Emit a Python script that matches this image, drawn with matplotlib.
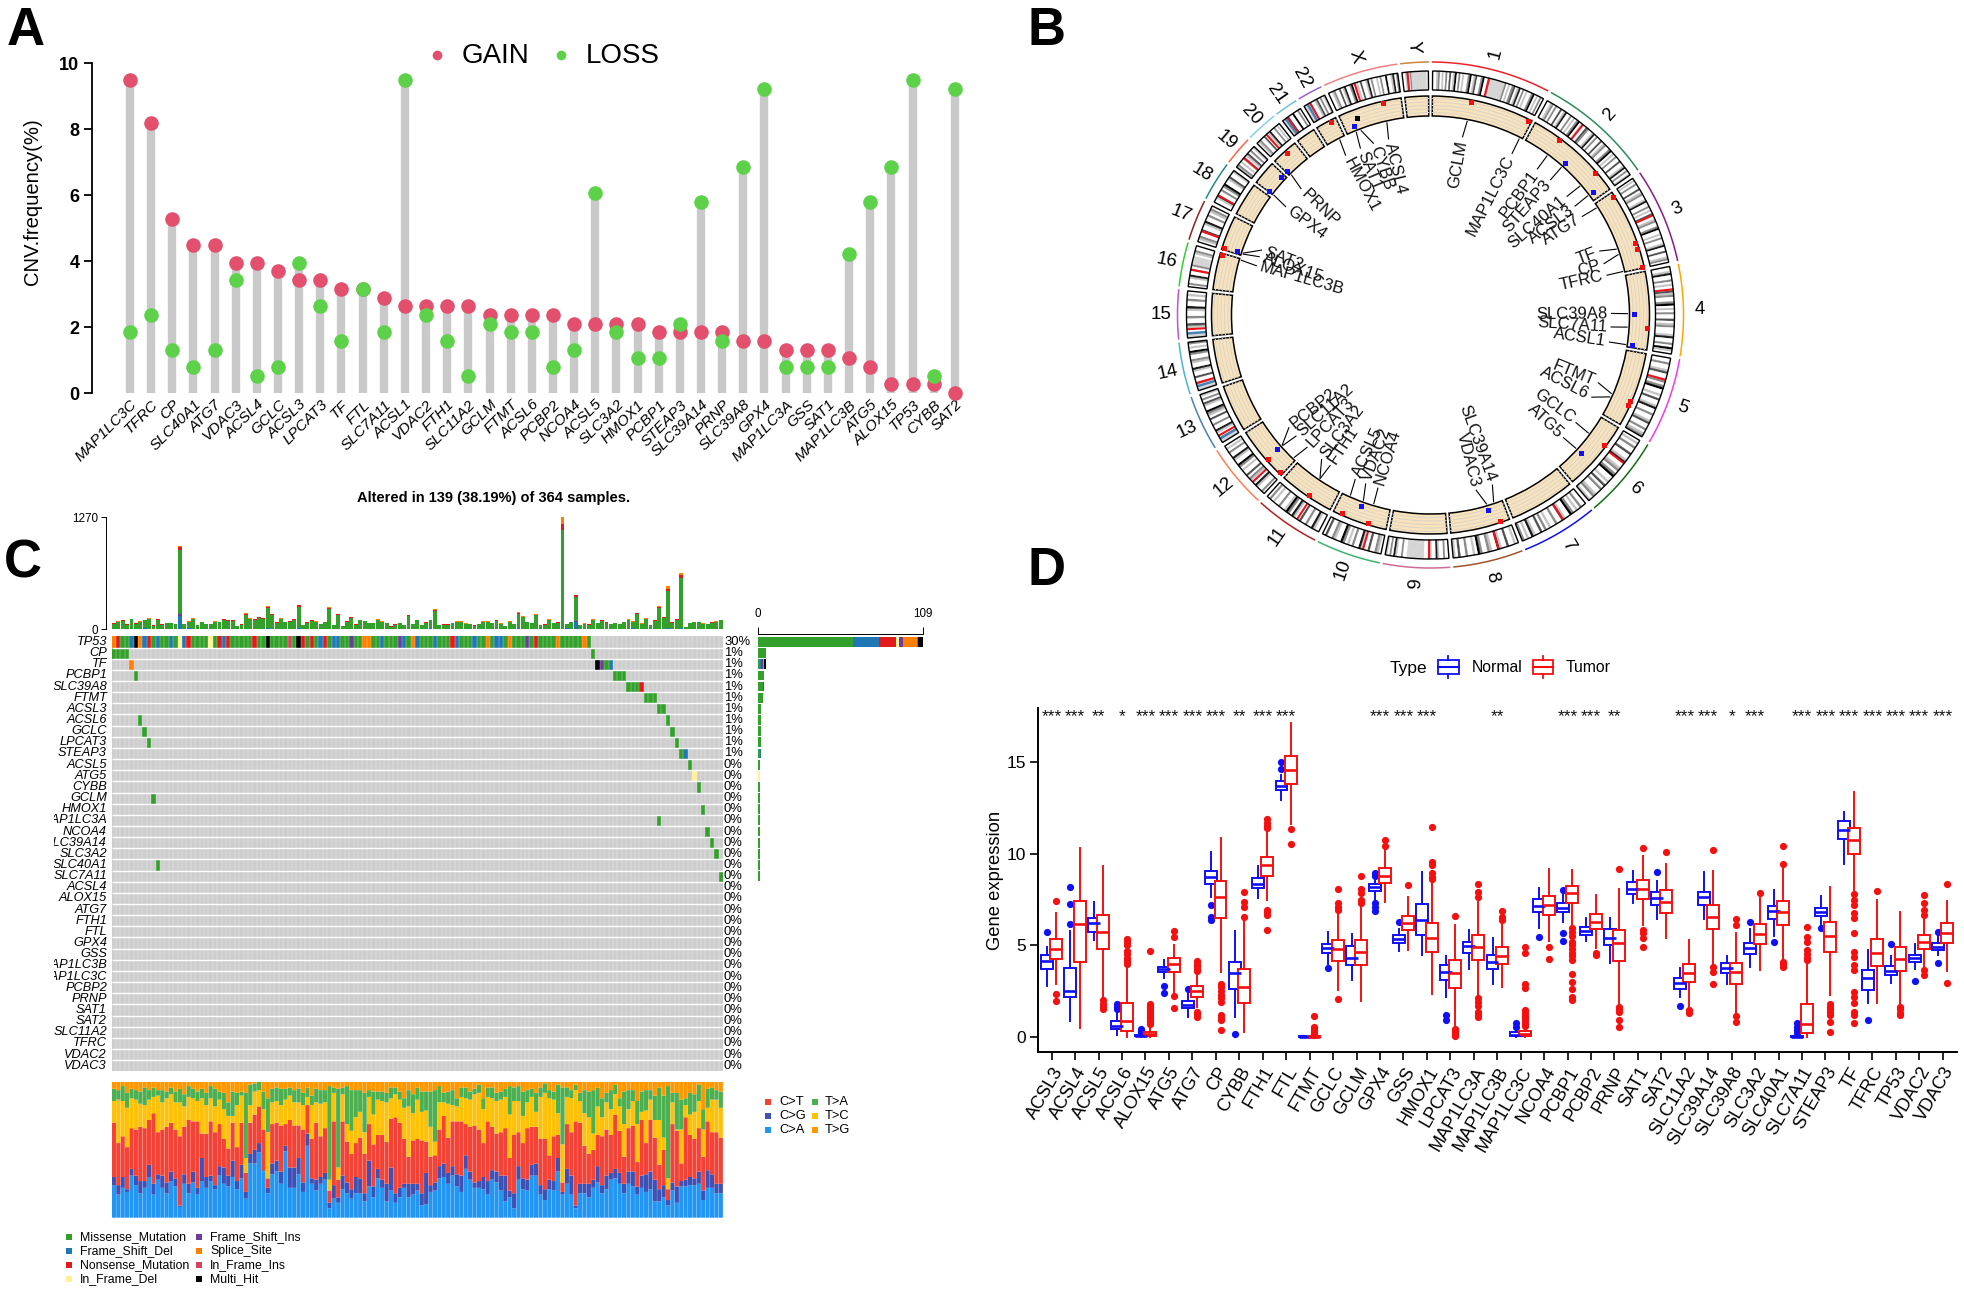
import numpy as np
import matplotlib
matplotlib.use("Agg")
import matplotlib.pyplot as plt
from matplotlib.colors import ListedColormap
from matplotlib.patches import Wedge, Rectangle
from matplotlib.transforms import Bbox

plt.rcParams['font.family'] = ['Liberation Sans', 'DejaVu Sans']

W, H = 1965, 1294

# ---------- Panel A data ----------
cnv_genes = ["MAP1LC3C","TFRC","CP","SLC40A1","ATG7","VDAC3","ACSL4","GCLC","ACSL3","LPCAT3","TF","FTL","SLC7A11","ACSL1","VDAC2","FTH1","SLC11A2","GCLM","FTMT","ACSL6","PCBP2","NCOA4","ACSL5","SLC3A2","HMOX1","PCBP1","STEAP3","SLC39A14","PRNP","SLC39A8","GPX4","MAP1LC3A","GSS","SAT1","MAP1LC3B","ATG5","ALOX15","TP53","CYBB","SAT2"]
cnv_gain = [9.5,8.18,5.28,4.49,4.49,3.96,3.96,3.7,3.43,3.43,3.17,3.17,2.9,2.64,2.64,2.64,2.64,2.38,2.38,2.38,2.38,2.11,2.11,2.11,2.11,1.85,1.85,1.85,1.85,1.59,1.59,1.32,1.32,1.32,1.06,0.79,0.27,0.27,0.27,0.0]
cnv_loss = [1.85,2.38,1.32,0.79,1.32,3.43,0.53,0.79,3.96,2.64,1.59,3.17,1.85,9.5,2.38,1.59,0.53,2.11,1.85,1.85,0.79,1.32,6.07,1.85,1.06,1.06,2.11,5.81,1.59,6.87,9.23,0.79,0.79,0.79,4.22,5.81,6.87,9.5,0.53,9.23]

# ---------- Panel B data ----------
chrom_names = ["1","2","3","4","5","6","7","8","9","10","11","12","13","14","15","16","17","18","19","20","21","22","X","Y"]
chrom_mb = [248.9,242.2,198.3,190.2,181.5,170.8,159.3,145.1,138.4,133.8,135.1,133.3,114.4,107.0,102.0,90.3,83.3,80.4,58.6,64.4,46.7,50.8,156.0,57.2]
chrom_cen = [123,93,91,50,48,60,60,45,43,40,54,35,17,17,19,37,24,17,26,28,12,15,60,12]
chrom_col = ["#F0202A","#2E8B57","#8B1A8B","#FFA500","#F03CE6","#106E10","#1010F0","#A0522D","#D06A96","#3CB371","#B22222","#FF7F50","#4682B4","#4CB4D0","#BA55D3","#32CD32","#8B2323","#1F8A8A","#FF6347","#87CEEB","#6FC3D9","#9A5FD9","#F08080","#CD853F"]
stalk_chr = ["13","14","15","21","22"]
stalk_mb = [10,10,10,8,9]
chrom_bands = [
 "0012010203015020100250130025002666666662010230140201002501020",
 "001202003014002010250100320014020030120025010200300140201",
 "0102003012001400201030012002500102001400300120",
 "0014002010031200250102003012000140020510",
 "002001300120250010300140020013002012",
 "0102003001400120250010302001201",
 "002010250013002001020300140102",
 "010030014001200250100200301",
 "002001400120066666666600200140201",
 "01200300140020102500120030",
 "001400200300140251002001020",
 "0200140012030010250014002010",
 "6620014002003012500130201",
 "66020030014001200250102",
 "6600130020014002010",
 "02001400202666601200",
 "01200300140020120",
 "00140020250013001",
 "1201020130201",
 "0120030014002010",
 "66030050020",
 "660200130201",
 "001200301400250010300140200102005001402",
 "00120266666666660",
]
gene_names = ["GCLM","MAP1LC3C","PCBP1","STEAP3","SLC40A1","ACSL3","ATG7","TF","CP","TFRC","SLC39A8","SLC7A11","ACSL1","FTMT","ACSL6","GCLC","ATG5","SLC39A14","VDAC3","NCOA4","VDAC2","ACSL5","FTH1","SLC3A2","LPCAT3","SLC11A2","PCBP2","MAP1LC3B","ALOX15","SAT2","GPX4","PRNP","HMOX1","SAT1","CYBB","ACSL4"]
gene_chr = ["1","1","2","2","2","2","3","3","3","3","4","4","4","5","5","6","6","8","8","10","10","10","11","11","12","12","12","16","17","17","19","20","22","X","X","X"]
gene_mb = [93.9,241.0,70.1,119.2,189.6,222.9,11.3,133.7,149.2,196.0,102.0,138.0,184.7,121.8,131.9,53.5,106.2,22.4,42.4,46.0,75.2,112.4,61.9,62.9,6.9,51.0,53.4,87.0,4.6,7.6,1.1,4.7,35.4,23.8,37.6,109.6]
gene_state = [1,1,1,-1,1,-1,1,1,1,1,-1,1,-1,1,1,1,-1,1,-1,1,-1,1,1,1,1,1,-1,1,1,-1,-1,-1,1,-1,0,1]
gene_label_angle = [10.2,26.8,36.2,41.6,49,53,57,69.3,73.5,77.3,89.5,93.8,98.6,112,117,126.5,132.7,160,165.4,196.9,201,204.6,213.7,217,223,228,231.5,285.8,288.8,291,306.8,314.3,332,337.2,341.6,346.6]
extra_chr = ["19","20"]
extra_mb = [48.9,34.9]
extra_state = [-1,1]

# ---------- Panel C data ----------
onco_genes = ["TP53","CP","TF","PCBP1","SLC39A8","FTMT","ACSL3","ACSL6","GCLC","LPCAT3","STEAP3","ACSL5","ATG5","CYBB","GCLM","HMOX1","MAP1LC3A","NCOA4","SLC39A14","SLC3A2","SLC40A1","SLC7A11","ACSL4","ALOX15","ATG7","FTH1","FTL","GPX4","GSS","MAP1LC3B","MAP1LC3C","PCBP2","PRNP","SAT1","SAT2","SLC11A2","TFRC","VDAC2","VDAC3"]
onco_pct = [30,1,1,1,1,1,1,1,1,1,1]+[0]*28
tp53_calls = ("SNMMFHSFNMFMMFMDFN"+"MMMM"+"DMNFN"+"MMMMM"+"NMM"+"H"+"MMMM"+"TMHNMNMFNMFF"+"MM"+"I"+"MM"+"SS"+"MM"+"F"+"MMM"+"IFMSF"+"MMM"+"F"+"MMM"+"NF"+"MMM"+"F"+"MM"+"SMFFMS"+"MMM"+"IMN"+"MMMM"+"S"+"MMMMM"+"SM")
other_calls = {
 "CP":{0:"M",1:"M",2:"M",3:"M",109:"M"},
 "TF":{4:"S",110:"H",111:"I",112:"M",113:"F"},
 "PCBP1":{5:"M",114:"M",115:"M",116:"M"},
 "SLC39A8":{117:"M",118:"M",119:"M",120:"N"},
 "FTMT":{121:"M",122:"M",123:"M"},
 "ACSL3":{124:"M",125:"M"},
 "ACSL6":{6:"M",126:"M"},
 "GCLC":{7:"M",127:"M"},
 "LPCAT3":{8:"M",128:"M"},
 "STEAP3":{129:"M",130:"F"},
 "ACSL5":{131:"M"},
 "ATG5":{132:"D"},
 "CYBB":{133:"M"},
 "GCLM":{9:"M"},
 "HMOX1":{134:"M"},
 "MAP1LC3A":{124:"M"},
 "NCOA4":{135:"M"},
 "SLC39A14":{136:"M"},
 "SLC3A2":{137:"M"},
 "SLC40A1":{10:"M"},
 "SLC7A11":{138:"M"},
}
var_codes = "MFNDISTH"
var_names = ["Missense_Mutation","Frame_Shift_Del","Nonsense_Mutation","In_Frame_Del","Frame_Shift_Ins","Splice_Site","In_Frame_Ins","Multi_Hit"]
var_cols = ["#33A02C","#1F78B4","#E31A1C","#FFF099","#6A3D9A","#FF7F00","#D8405F","#000000"]

tmb_total = [64,87,99,53,117,64,87,106,121,42,114,53,68,68,61,948,61,87,121,49,83,61,57,87,83,117,102,99,38,53,178,121,117,136,125,262,171,76,121,83,91,114,277,45,76,102,87,57,83,254,45,174,38,91,140,53,106,95,68,72,110,87,68,30,53,68,45,163,57,106,
 45,76,106,227,45,53,53,72,87,87,64,61,42,61,87,87,68,102,64,38,87,61,190,144,83,72,167,45,53,110,72,76,1270,57,83,390,49,64,53,110,68,99,76,61,68,61,80,110,87,182,64,121,49,102,262,136,489,76,114,640,27,72,80,80,64,61,76,87,106]
tmb_nons = [3,4,4,2,6,3,4,5,6,2,6,2,3,3,3,35,3,4,6,2,4,3,3,4,4,6,5,5,2,2,9,6,6,7,6,16,9,4,6,4,4,6,16,2,4,5,4,3,4,14,2,9,2,4,7,3,5,5,3,4,6,4,3,2,3,3,2,8,3,5,
 2,4,5,12,2,3,3,4,4,4,3,3,2,3,4,4,3,5,3,2,4,3,11,8,4,4,9,2,3,6,4,4,68,3,4,20,2,3,3,6,3,5,4,3,3,3,4,6,4,10,3,6,2,5,16,7,22,4,6,30,2,4,4,4,3,3,4,4,6]
tmb_splice = [1,2,2,1,2,1,2,2,3,1,2,1,2,2,1,20,1,2,3,1,2,1,1,2,2,3,2,2,1,1,5,3,3,3,3,10,4,2,3,2,2,3,6,1,2,2,2,1,2,12,1,6,1,2,4,1,2,2,2,2,3,2,2,1,1,2,1,4,1,3,
 1,2,2,6,1,1,1,2,2,2,2,1,1,1,2,2,2,2,2,1,2,1,4,4,2,2,4,1,1,3,2,2,72,1,2,8,1,2,1,3,2,2,2,1,2,1,2,3,2,4,2,3,1,2,9,3,35,2,3,30,1,2,2,2,2,1,2,2,3]
tmb_del_cols = [15,105,1,7,17,22,35,42,58,72,92,103,118,126,129]
tmb_del_vals = [150,80,5,6,6,5,8,10,5,6,6,8,8,8,10]
tmb_ins_cols = [15,105]
tmb_ins_vals = [18,12]

titv_labels = ["C>A","C>G","C>T","T>C","T>A","T>G"]
titv_cols = ["#2196F3","#3F51B5","#F44336","#FFC107","#4CAF50","#FF9800"]
titv_ca = [24,17,22,19,31,24,18,22,30,17,28,22,18,27,23,8,25,18,26,17,27,22,27,21,31,25,23,30,21,29,14,40,40,48,34,18,32,34,25,49,22,22,32,19,53,25,20,25,28,7,14,11,21,18,14,18,18,12,23,15,29,22,12,20,11,15,22,15,17,20,
 9,10,19,20,29,30,25,31,23,19,36,28,22,22,21,17,28,26,20,12,15,7,28,21,20,31,31,17,13,21,20,34,17,25,17,7,18,18,15,22,26,18,21,28,29,25,18,25,23,17,22,19,21,12,12,15,9,20,11,23,23,24,24,25,13,22,22,18,18]
titv_cg = [30,24,30,21,36,31,27,27,39,25,32,31,26,34,29,9,32,25,34,22,44,30,31,24,38,37,31,42,27,39,19,47,50,55,35,22,40,42,34,53,37,37,44,26,62,29,28,30,33,11,24,15,31,26,21,30,29,18,42,23,36,28,25,37,18,22,25,25,25,25,
 18,33,24,26,38,40,33,38,32,31,46,34,26,27,30,27,35,34,31,31,20,18,38,29,28,39,40,24,21,28,27,44,19,36,31,9,25,25,25,28,38,24,31,33,36,33,25,34,34,23,31,32,34,28,21,24,13,26,23,27,28,30,29,34,20,35,32,25,25]
titv_ct = [70,55,60,52,66,65,67,66,72,77,63,65,67,70,65,60,67,72,71,71,62,62,71,63,69,58,51,70,52,70,33,70,76,82,65,29,69,70,68,69,72,68,68,65,83,58,70,60,66,20,71,28,71,56,47,55,59,47,69,54,61,61,56,73,74,70,58,45,57,58,
 57,56,45,46,65,75,59,71,71,71,69,67,68,65,55,71,67,62,63,66,44,61,63,55,66,67,67,58,58,46,60,61,26,69,63,71,70,53,47,50,61,60,65,61,76,64,45,66,68,41,72,55,72,59,39,50,21,69,64,40,74,61,58,66,45,71,63,63,59]
titv_tc = [86,87,86,81,88,87,84,83,87,89,90,85,88,91,85,85,82,89,88,86,88,83,88,82,87,80,75,75,83,90,44,83,93,94,80,63,85,86,83,87,90,85,85,83,89,83,85,84,85,28,92,37,91,69,64,74,78,63,89,76,87,86,85,88,91,87,81,82,77,87,
 78,79,67,56,85,85,84,83,82,89,88,87,91,92,80,89,88,86,87,89,76,86,86,75,85,89,78,89,92,88,87,77,54,89,88,94,86,77,74,62,82,74,85,80,91,82,69,80,86,69,78,79,87,72,72,59,29,85,65,65,83,76,78,86,65,81,87,87,81]
titv_ta = [95,94,97,92,95,94,93,96,94,96,94,94,93,96,93,95,91,97,95,93,95,92,97,95,93,92,85,93,92,93,92,98,99,100,93,88,95,96,95,95,96,94,95,92,96,90,95,94,94,97,96,95,96,97,94,94,94,92,94,93,93,93,92,96,96,93,88,94,91,96,
 93,93,93,94,97,92,93,94,88,96,96,93,95,98,88,96,96,92,93,95,97,96,97,93,94,95,92,96,99,94,93,98,96,96,94,98,92,94,93,94,96,88,92,94,98,88,93,94,94,86,93,94,94,90,96,90,97,92,92,87,88,92,91,98,80,95,96,94,93]

# ---------- Panel D data ----------
box_genes = ["ACSL3","ACSL4","ACSL5","ACSL6","ALOX15","ATG5","ATG7","CP","CYBB","FTH1","FTL","FTMT","GCLC","GCLM","GPX4","GSS","HMOX1","LPCAT3","MAP1LC3A","MAP1LC3B","MAP1LC3C","NCOA4","PCBP1","PCBP2","PRNP","SAT1","SAT2","SLC11A2","SLC39A14","SLC39A8","SLC3A2","SLC40A1","SLC7A11","STEAP3","TF","TFRC","TP53","VDAC2","VDAC3"]
box_sig = ["***","***","**","*","***","***","***","***","**","***","***","","","","***","***","***","","","**","","","***","***","**","","","***","***","*","***","","***","***","***","***","***","***","***"]
n_q1 = [3.68,2.15,5.7,.4,.02,3.52,1.55,8.33,2.59,8.11,13.49,0,4.57,3.92,7.98,5.14,5.56,3.1,4.56,3.7,.03,6.83,6.83,5.54,5.01,7.78,7.22,2.62,7.18,3.5,4.52,6.45,0,6.6,10.83,2.57,3.35,4.08,4.74]
n_med = [4.16,2.5,6.23,.58,.04,3.68,1.75,8.73,3.46,8.33,13.72,.01,4.83,4.32,8.16,5.36,6.36,3.54,4.96,4.06,.1,7.16,7.03,5.78,5.41,8.09,7.56,2.92,7.64,3.77,4.83,6.87,.01,6.83,11.3,3.19,3.61,4.28,4.92]
n_q3 = [4.45,3.74,6.47,.86,.08,3.83,1.97,9.08,4.1,8.69,13.96,.03,5.08,4.94,8.33,5.58,7.24,3.94,5.19,4.45,.27,7.53,7.29,5.98,5.89,8.44,7.93,3.23,7.93,4.05,5.14,7.16,.03,7.05,11.77,3.66,3.86,4.48,5.1]
n_lo = [2.79,.87,5.29,.1,0,3.19,1.06,7.65,1.09,7.56,12.94,0,3.95,3.1,7.47,4.68,4.46,2.15,3.68,2.86,0,5.92,6.29,5.25,4.01,7.33,6.42,2.19,6.45,2.86,3.83,5.5,0,6.1,9.44,1.82,2.95,3.68,4.47]
n_hi = [4.88,5.78,7.36,1.35,.15,4.19,2.46,10.08,5.78,9.33,14.3,.06,5.74,5.6,8.6,5.9,9.02,4.41,5.83,5.41,.5,8.15,7.8,6.47,6.47,9.04,8.51,3.74,8.98,4.41,5.9,8.02,.05,7.67,12.27,4.74,4.43,5.07,5.5]
n_fl = [[5.7],[8.2,7.24,6.18],[],[1.8,1.65,1.5],[.4,.3,.25],[2.77,2.41],[2.62],[7.2,6.56,6.38],[.15],[],[15.03,14.63],[],[3.75],[],[8.93,8.78,7.29,7.1,6.87],[6.25],[],[1.18,.91],[],[],[.73,.55],[5.45],[8.02,5.69,5.25],[],[],[],[8.98],[1.68],[],[],[6.25],[5.19],[.73,.55,.36,.2],[5.94],[],[.93],[5.05],[3.06],[5.74,4.05]]
t_q1 = [4.23,4.08,4.77,.33,.02,3.53,2.19,6.5,1.82,8.78,13.8,0,4.12,3.92,8.38,5.81,4.61,2.64,4.19,3.95,.05,6.65,7.29,5.9,4.16,7.53,6.78,2.99,5.87,2.88,5.08,6.09,.18,4.61,9.97,3.88,3.61,4.81,5.12]
t_med = [4.79,6.14,5.72,.86,.15,3.95,2.5,7.64,2.7,9.39,14.56,.01,4.77,4.65,8.8,6.2,5.38,3.5,4.88,4.41,.15,7.2,7.84,6.27,5.12,8.06,7.38,3.5,6.52,3.54,5.63,6.83,.67,5.49,10.73,4.56,4.25,5.19,5.65]
t_q3 = [5.36,7.42,6.65,1.82,.27,4.3,2.77,8.53,3.68,9.84,15.36,.05,5.29,5.27,9.2,6.58,6.21,4.17,5.54,4.9,.31,7.71,8.24,6.72,5.83,8.55,8.04,3.99,7.18,4.05,6.14,7.42,1.79,6.25,11.41,5.34,4.92,5.54,6.21]
t_lo = [2.88,.45,2.1,0,0,2.4,1.65,3.55,.27,7.47,11.63,0,2.55,1.97,7.38,4.74,2.33,.4,2.2,2.73,0,5.23,6.0,4.83,1.7,6.1,5.41,1.65,3.9,1.2,3.64,4.1,0,2.28,8.0,1.82,1.73,3.7,3.57]
t_hi = [6.74,10.33,9.33,3.9,.6,5.0,3.4,10.88,6.6,11.2,17.13,.1,6.9,7.16,10.2,7.62,8.4,6.1,7.34,6.2,.5,9.19,9.13,7.76,8.06,9.88,9.42,5.29,9.06,5.65,7.6,9.3,4.0,8.18,13.38,7.45,6.83,6.5,7.42]
t_fl = [[7.44,2.33,1.95],[],[2.0,1.8,1.6,1.5],[5.35,5.2,5.0,4.7,4.5,4.3,4.15,4.0],[4.67,1.8,1.7,1.6,1.5,1.4,1.3,1.2,1.1,1.0,.9,.8,.7],[5.8,5.47,2.22,1.59],[4.15,4,3.85,3.7,3.6,1.35,1.25,1.1],[2.9,2.7,2.5,2.3,2.1,1.9,1.2,1.0,.9,.36],[7.93,7.34,7.1,6.52],[11.9,11.7,11.5,11.4,6.95,6.8,6.65,5.83],[11.35,10.53],[1.13,.55,.4,.3,.2,.1],[8.07,7.3,7.1,6.93,2.06],[8.78,8.1,7.84,7.47,7.3],[10.75,10.42],[8.31],[11.48,9.57,9.39,8.93,8.75,8.6],[6.62,.4,.3,.2,.1,.05],[8.33,7.93,7.65,2.1,1.9,1.7,1.35,1.2,1.1],[6.89,6.56,6.38],[4.92,4.59,2.88,2.64,1.46,1.3,1.15,1,.85,.7,.6],[4.9,4.23],[5.92,5.7,5.5,5.2,5.0,4.8,4.6,4.4,4.2,3.41,3.0,2.59,2.19,2.0],[4.56,4.45],[9.19,1.65,1.5,1.37,.91,.55],[10.32,5.83,5.65,5.38,4.88],[10.08],[1.46,1.28],[10.19,3.83,3.55,2.86],[6.42,6.1,1.13,.82],[7.87],[10.41,9.44,4.1,3.95,3.83],[6.0,5.47,5.2,4.74,4.5,4.3,4.2],[1.8,1.65,1.5,1.35,1.2,.82,.27],[7.78,7.47,7.2,6.74,6.47,5.65,4.65,4.37,3.92,3.65,2.46,2.19,1.82,1.37,1.18,.73],[7.96],[1.65,1.5,1.3,1.2],[7.76,7.29,6.93,6.65,3.65,3.4],[8.33,2.92]]

# ---------- helpers ----------
fig = plt.figure(figsize=(W/100, H/100), dpi=100, facecolor="white")

def px_axes(x0, y0, x1, y1, **kw):
    return fig.add_axes([x0/W, 1-y1/H, (x1-x0)/W, (y1-y0)/H], **kw)

# ---------- Panel A ----------
axA = px_axes(92, 63.3, 965, 393.3)
xa = np.arange(len(cnv_genes))
axA.set_xlim((92-130)/21.15, (965-130)/21.15)
axA.set_ylim(0, 10)
tops = np.maximum(cnv_gain, cnv_loss)
axA.vlines(xa, 0, tops, color="#C9C9C9", lw=6, zorder=1)
axA.plot(xa, cnv_gain, "o", color="#E2506E", ms=10.5, mew=0, clip_on=False, zorder=2)
axA.plot(xa, cnv_loss, "o", color="#5DD14A", ms=10.5, mew=0, clip_on=False, zorder=3)
for s in ["top", "right", "bottom"]:
    axA.spines[s].set_visible(False)
axA.spines["left"].set_linewidth(1.3)
axA.set_yticks([0, 2, 4, 6, 8, 10])
axA.tick_params(axis="y", length=6, width=1.3, labelsize=13, pad=3)
for t in axA.get_yticklabels():
    t.set_fontweight("bold")
axA.set_xticks(xa)
axA.set_xticklabels(cnv_genes, rotation=45, ha="right", va="top", rotation_mode="anchor", fontsize=11, style="italic")
axA.tick_params(axis="x", length=0, pad=3)
axA.set_ylabel("CNV.frequency(%)", fontsize=14.6)
axA.yaxis.set_label_coords((42-92)/873, 0.58)

# ---------- Panel B ----------
axB = px_axes(1430.5-290, 315-290, 1430.5+290, 315+290)
axB.set_xlim(-290, 290); axB.set_ylim(-290, 290); axB.axis("off")
gap = 1.0
k = (360 - gap*len(chrom_mb)) / sum(chrom_mb)
starts = {}
pos = 0.5
for n, m in zip(chrom_names, chrom_mb):
    starts[n] = pos
    pos += m*k + gap

def ang(c, mb):
    return starts[c] + mb*k

def pol(theta, r):
    t = np.deg2rad(theta)
    return r*np.sin(t), r*np.cos(t)

def wedge(t0, t1, r0, r1, **kw):
    axB.add_patch(Wedge((0, 0), r1, 90-t1, 90-t0, width=r1-r0, **kw))

band_gray = {"0":"#FFFFFF","1":"#C4C4C4","2":"#8A8A8A","3":"#505050","4":"#1A1A1A","5":"#000000","6":"#D4D4D4"}
for i, n in enumerate(chrom_names):
    t0 = starts[n]; t1 = t0 + chrom_mb[i]*k
    bands = chrom_bands[i]
    edges = np.linspace(t0, t1, len(bands)+1)
    for j, b in enumerate(bands):
        wedge(edges[j], edges[j+1], 225, 244, fc=band_gray[b], ec=band_gray[b], lw=0.2)
    ca = ang(n, chrom_cen[i])
    wedge(ca-0.25, ca+0.25, 225, 244, fc="#F0101A", ec="none", lw=0)
    if n in stalk_chr:
        sa = ang(n, stalk_mb[stalk_chr.index(n)])
        wedge(sa-0.3, sa+0.3, 225, 244, fc="#4682B4", ec="none", lw=0)
    wedge(t0, t1, 225, 244, fc="none", ec="black", lw=1.0)
    wedge(t0, t1, 199, 219, fc="#F9E3BC", ec="none", lw=0)
    th = np.linspace(t0, t1, 60)
    for rr in [202.5, 206, 209.5, 213, 216.5]:
        lx, ly = pol(th, rr)
        axB.plot(lx, ly, color="#DAD4C8", lw=0.7)
    wedge(t0, t1, 199, 219, fc="none", ec="black", lw=1.1)
    lx, ly = pol(th, 253)
    axB.plot(lx, ly, color=chrom_col[i], lw=1.1)
    mid = (t0+t1)/2
    tx, ty = pol(mid, 269)
    rot = 90-mid if mid < 180 else 270-mid
    axB.text(tx, ty, n, rotation=rot, ha="center", va="center", rotation_mode="anchor", fontsize=13.5)

state_r = {1: 217, -1: 203.5, 0: 210}
state_c = {1: "#F01010", -1: "#1010F0", 0: "black"}
for name, c, mb, st, la in zip(gene_names, gene_chr, gene_mb, gene_state, gene_label_angle):
    g = ang(c, mb)
    x, y = pol(g, state_r[st])
    axB.plot(x, y, "s", color=state_c[st], ms=3.6, mew=0, zorder=5)
    p0 = pol(g, 197); p1 = pol(la, 181)
    axB.plot([p0[0], p1[0]], [p0[1], p1[1]], color="black", lw=0.8)
    tx, ty = pol(la, 177)
    if la < 180:
        axB.text(tx, ty, name, rotation=90-la, ha="right", va="center", rotation_mode="anchor", fontsize=12, color="#111111")
    else:
        axB.text(tx, ty, name, rotation=270-la, ha="left", va="center", rotation_mode="anchor", fontsize=12, color="#111111")
for c, mb, st in zip(extra_chr, extra_mb, extra_state):
    x, y = pol(ang(c, mb), state_r[st])
    axB.plot(x, y, "s", color=state_c[st], ms=3.6, mew=0, zorder=5)

# ---------- Panel C ----------
n_s = len(tmb_total)
oL, oR = 111.7, 723.0
rowT, rowB = 636.4, 1071.3
# TMB
axT = px_axes(oL, 517.3, oR, 629)
xs = np.arange(n_s)
tot = np.array(tmb_total, float)
dl = np.zeros(n_s); dl[tmb_del_cols] = tmb_del_vals
ins = np.zeros(n_s); ins[tmb_ins_cols] = tmb_ins_vals
nn = np.array(tmb_nons, float); sp = np.array(tmb_splice, float)
miss = tot - dl - ins - nn - sp
bot = np.zeros(n_s)
for vals, col in [(dl, var_cols[1]), (ins, var_cols[4]), (miss, var_cols[0]), (nn, var_cols[2]), (sp, var_cols[5])]:
    axT.bar(xs, vals, bottom=bot, width=0.88, color=col, lw=0)
    bot = bot + vals
axT.set_xlim(-0.5, n_s-0.5); axT.set_ylim(0, 1270)
for s in ["top", "right", "bottom"]:
    axT.spines[s].set_visible(False)
axT.spines["left"].set_position(("outward", 4.4))
axT.spines["left"].set_linewidth(0.7)
axT.set_xticks([]); axT.set_yticks([0, 1270])
axT.tick_params(axis="y", length=3.5, width=0.7, labelsize=8.4, pad=2)

# Oncoplot matrix
n_r = len(onco_genes)
mat = np.zeros((n_r, n_s), int)
for j, ch in enumerate(tp53_calls):
    mat[0, j] = var_codes.index(ch) + 1
for g, d in other_calls.items():
    r = onco_genes.index(g)
    for c, ch in d.items():
        mat[r, c] = var_codes.index(ch) + 1
axO = px_axes(oL, rowT, oR, rowB)
cmap = ListedColormap(["#CDCDCD"] + var_cols)
axO.pcolormesh(np.arange(n_s+1)-0.5, np.arange(n_r+1)-0.5, mat, cmap=cmap, vmin=0, vmax=8, shading="flat", linewidth=0)
axO.set_xlim(-0.5, n_s-0.5); axO.set_ylim(n_r-0.5, -0.5)
axO.axis("off")
axO.vlines(np.arange(n_s-1)+0.5, -0.5, n_r-0.5, color="white", lw=0.35, alpha=0.6)
axO.hlines(np.arange(n_r-1)+0.5, -0.5, n_s-0.5, color="white", lw=1.0)

# Right bars
axR = px_axes(758, rowT, 923, rowB)
axR.set_xlim(0, 109); axR.set_ylim(n_r-0.5, -0.5)
for r in range(n_r):
    left = 0
    for code_i in range(len(var_codes)):
        cnt = int((mat[r] == code_i+1).sum())
        if cnt:
            axR.barh(r, cnt, left=left, height=0.88, color=var_cols[code_i], lw=0)
            left += cnt
for s in ["left", "right", "bottom"]:
    axR.spines[s].set_visible(False)
axR.spines["top"].set_position(("outward", 2))
axR.spines["top"].set_linewidth(0.7)
axR.set_yticks([])
axR.xaxis.tick_top()
axR.set_xticks([0, 109])
axR.tick_params(axis="x", length=5, width=0.7, labelsize=8.4, pad=5)

# Titv
axV = px_axes(oL, 1082, oR, 1217.7)
bounds = [np.zeros(n_s), np.array(titv_ca, float), np.array(titv_cg, float), np.array(titv_ct, float), np.array(titv_tc, float), np.array(titv_ta, float), np.full(n_s, 100.0)]
for i, col in enumerate(titv_cols):
    bars = axV.bar(xs, bounds[i+1]-bounds[i], bottom=bounds[i], width=0.95, color=col, lw=0)
    for b in bars:
        b.set_snap(False)
axV.set_xlim(-0.5, n_s-0.5); axV.set_ylim(0, 100); axV.axis("off")

# ---------- Panel D ----------
axD = px_axes(1038.3, 707.7, 1956.7, 1052.3)
axD.set_xlim(-13.4/23.45, 38+14/23.45)
axD.set_ylim((1036.7-1052.3)/18.29, (1036.7-707.7)/18.29)

def stats(q1, med, q3, lo, hi, fl):
    return [dict(q1=a, med=b, q3=c, whislo=d, whishi=e, fliers=f) for a, b, c, d, e, f in zip(q1, med, q3, lo, hi, fl)]

px = np.arange(len(box_genes))
for st, off, col in [(stats(n_q1, n_med, n_q3, n_lo, n_hi, n_fl), -0.2, "#1010F5"), (stats(t_q1, t_med, t_q3, t_lo, t_hi, t_fl), 0.2, "#F51010")]:
    axD.bxp(st, positions=px+off, widths=0.51, showcaps=False, manage_ticks=False, patch_artist=True,
            boxprops=dict(edgecolor=col, facecolor="white", linewidth=1.4),
            medianprops=dict(color=col, linewidth=1.9),
            whiskerprops=dict(color=col, linewidth=1.4),
            flierprops=dict(marker="o", markerfacecolor=col, markeredgecolor=col, markersize=5.2, markeredgewidth=0))
for i, s in enumerate(box_sig):
    axD.text(i, 17.5, s, ha="center", va="center", fontsize=12.5, color="#111111")
for s in ["top", "right"]:
    axD.spines[s].set_visible(False)
axD.spines["left"].set_linewidth(1.4); axD.spines["bottom"].set_linewidth(1.4)
axD.set_yticks([0, 5, 10, 15])
axD.set_xticks(px)
axD.set_xticklabels(box_genes, rotation=60, ha="right", va="top", rotation_mode="anchor", fontsize=13)
axD.tick_params(axis="both", length=5.5, width=1.2, pad=3)
axD.tick_params(axis="y", labelsize=12.5)
axD.set_ylabel("Gene expression", fontsize=13.2)
axD.yaxis.set_label_coords((1004-1038.3)/918.4, 0.5)

# ---------- overlay text / legends ----------
ov = fig.add_axes([0, 0, 1, 1], facecolor="none")
ov.set_xlim(0, W); ov.set_ylim(H, 0); ov.axis("off")

for lab, x, y in [("A", 26, 31), ("B", 1047, 31), ("C", 23, 563), ("D", 1047, 571)]:
    ov.text(x, y, lab, fontsize=38, fontweight="bold", ha="center", va="center")

ov.plot([437], [55], "o", color="#E2506E", ms=7, mew=0)
ov.text(462, 56, "GAIN", fontsize=20, va="center")
ov.plot([561], [55], "o", color="#5DD14A", ms=7, mew=0)
ov.text(586, 56, "LOSS", fontsize=20, va="center")

ov.text(494, 498, "Altered in 139 (38.19%) of 364 samples.", fontsize=10.5, fontweight="bold", ha="center", va="center")

clip = Bbox([[54, 0], [200, H]])
for r, g in enumerate(onco_genes):
    y = 642 + r*11.15
    t = ov.text(107, y, g, fontsize=9.2, style="italic", ha="right", va="center")
    t.set_clip_box(clip); t.set_clip_on(True)
    ov.text(724, y, f"{onco_pct[r]}%", fontsize=9.4, ha="left", va="center")

for i, (lab, col) in enumerate(zip(["C>T", "C>G", "C>A"], [titv_cols[2], titv_cols[1], titv_cols[0]])):
    y = 1102 + i*14
    ov.plot([768], [y], "s", color=col, ms=4, mew=0)
    ov.text(779, y, lab, fontsize=9.3, va="center")
for i, (lab, col) in enumerate(zip(["T>A", "T>C", "T>G"], [titv_cols[4], titv_cols[3], titv_cols[5]])):
    y = 1102 + i*14
    ov.plot([815], [y], "s", color=col, ms=4, mew=0)
    ov.text(825, y, lab, fontsize=9.3, va="center")
for i in range(8):
    cx, tx = (69, 80) if i < 4 else (199, 210)
    y = 1237 + (i % 4)*14
    ov.plot([cx], [y], "s", color=var_cols[i], ms=3.8, mew=0)
    ov.text(tx, y, var_names[i], fontsize=8.8, va="center")

ov.text(1390, 668, "Type", fontsize=12.5, ha="left", va="center")
for x0, x1, col, lab, tx in [(1438, 1459, "#1010F5", "Normal", 1472), (1533, 1553, "#F51010", "Tumor", 1566)]:
    ov.add_patch(Rectangle((x0, 660), x1-x0, 13.5, fc="white", ec=col, lw=1.3))
    ov.plot([x0, x1], [667, 667], color=col, lw=1.5)
    ov.plot([(x0+x1)/2]*2, [656, 660], color=col, lw=1.3)
    ov.plot([(x0+x1)/2]*2, [673.5, 678], color=col, lw=1.3)
    ov.text(tx, 668, lab, fontsize=11.3, va="center")

fig.savefig("out.png", dpi=100, facecolor="white")
